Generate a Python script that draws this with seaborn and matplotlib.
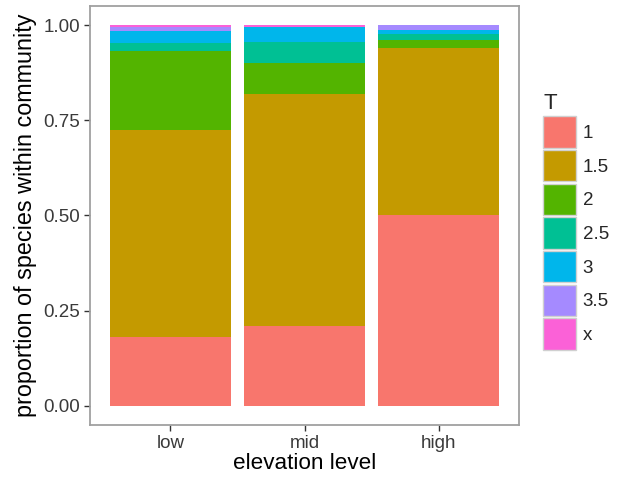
import numpy as np
import pandas as pd
import matplotlib
matplotlib.use('Agg')
import matplotlib.pyplot as plt
import seaborn as sns
from matplotlib.patches import Patch

# elevation levels and proportion of species per T class
levels = ['low', 'mid', 'high']
t_classes = ['1', '1.5', '2', '2.5', '3', '3.5', 'x']
prop_1 = [0.180, 0.210, 0.500]
prop_1_5 = [0.545, 0.610, 0.439]
prop_2 = [0.207, 0.081, 0.021]
prop_2_5 = [0.021, 0.055, 0.016]
prop_3 = [0.031, 0.039, 0.011]
prop_3_5 = [0.012, 0.000, 0.013]
prop_x = [0.004, 0.005, 0.000]

colors = ['#F8766D', '#C49A00', '#53B400', '#00C094', '#00B6EB', '#A58AFF', '#FB61D7']

props = [prop_1, prop_1_5, prop_2, prop_2_5, prop_3, prop_3_5, prop_x]
df = pd.DataFrame({t: p for t, p in zip(t_classes, props)}, index=levels)
cum = df.cumsum(axis=1)

sns.set_style('white')
plt.rcParams['font.family'] = ['Liberation Sans', 'DejaVu Sans']

fig = plt.figure(figsize=(6.17, 4.86), dpi=100)
ax = fig.add_axes([90 / 617, 61 / 486, 429 / 617, 419 / 486])

# draw cumulative bars from the top class down so they stack
for t, c in zip(reversed(t_classes), reversed(colors)):
    d = pd.DataFrame({'level': levels, 'cum': cum[t].values})
    sns.barplot(data=d, x='level', y='cum', order=levels, color=c,
                saturation=1, width=0.9, errorbar=None, linewidth=0, ax=ax)

ax.set_xlim(-0.6, 2.6)
ax.set_ylim(-0.05, 1.05)
ax.set_yticks([0, 0.25, 0.5, 0.75, 1.0])
ax.set_yticklabels(['0.00', '0.25', '0.50', '0.75', '1.00'])
ax.set_xlabel('elevation level', fontsize=16.2, color='black', labelpad=1)
ax.set_ylabel('proportion of species within community', fontsize=16.8,
              color='black', labelpad=5)
ax.tick_params(axis='both', labelsize=13.5, labelcolor='#3a3a3a',
               color='#333333', length=4, width=1, direction='out',
               bottom=True, left=True, pad=3)
for s in ax.spines.values():
    s.set_color('#a0a0a0')
    s.set_linewidth(1.3)

handles = [Patch(facecolor=c, edgecolor='#d0d0d0', linewidth=1) for c in colors]
leg = fig.legend(handles, t_classes, title='T', loc='upper left',
                 bbox_to_anchor=(530 / 617, 1 - 80 / 486), frameon=False,
                 fontsize=13.5, title_fontsize=16, handlelength=1.75,
                 handleheight=2.2, labelspacing=0.12, handletextpad=0.35,
                 borderpad=0.2)
leg._legend_box.align = 'left'

fig.savefig('out.png', dpi=100)
